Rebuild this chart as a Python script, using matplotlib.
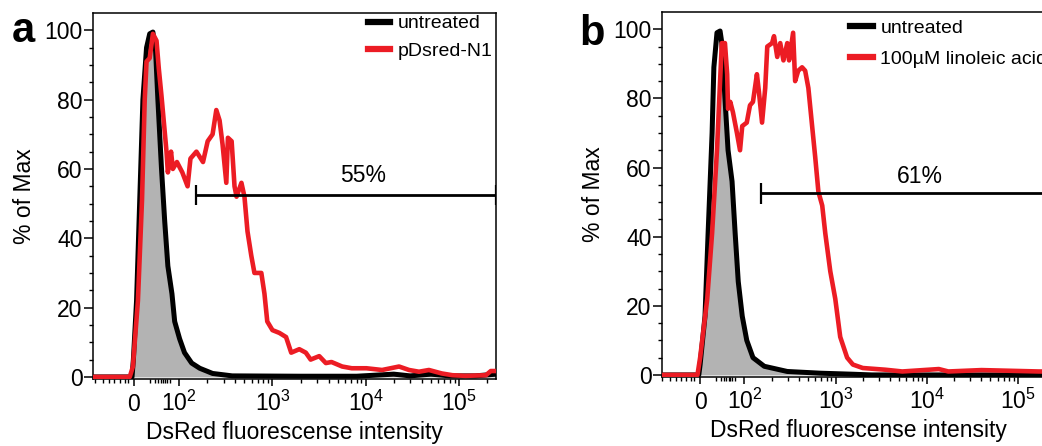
import numpy as np
import matplotlib
matplotlib.use("Agg")
import matplotlib.pyplot as plt
from matplotlib.lines import Line2D

plt.rcParams['font.family'] = ['Liberation Sans', 'DejaVu Sans']
plt.rcParams['mathtext.fontset'] = 'custom'
plt.rcParams['mathtext.rm'] = 'Liberation Sans'
plt.rcParams['mathtext.it'] = 'Liberation Sans:italic'

# panel a : untreated vs pDsred-N1
a_black_x = [-90, -4, -1, 6, 13, 20, 28, 35, 42, 48, 53, 61, 68, 75, 84, 90, 101, 114, 136, 166,
             228, 370, 1941, 8000, 20000, 30000, 50000, 80000, 150000, 250000]
a_black_y = [0, 0, 5, 22, 51, 80, 95, 99, 99.5, 94, 80, 60, 45, 32, 24, 16, 11, 7, 4, 2.5,
             1, 0.3, 0.2, 0.2, 0.8, 0.3, 0.8, 0.3, 0.3, 0.8]
a_red_x = [-90, -9, -2, 9, 18, 24, 28, 35, 42, 50, 55, 61, 72, 75, 82, 86, 95, 108, 123, 132,
           153, 180, 202, 228, 250, 271, 292, 320, 333, 365, 392, 412, 465, 501, 540, 593, 641, 760, 821, 880,
           1000, 1186, 1400, 1590, 1941, 2280, 2570, 3177, 3740, 4300, 5600, 7100, 10200, 15000, 22800, 29200,
           37300, 47700, 65500, 85000, 118000, 195000, 220000, 250000]
a_red_y = [0, 0, 3, 22, 51, 80, 91, 92, 99, 97, 89, 81, 65, 59, 65, 60, 62, 59, 55, 63,
           65, 62, 68, 70, 77, 74, 67, 56, 69, 68, 55, 52, 56, 52, 42, 35, 30, 30, 24, 16,
           13.5, 12.7, 11.5, 7, 8, 7, 5, 6, 4, 4.3, 3, 2.5, 2.5, 2, 3, 2,
           1.5, 2, 1, 0.5, 0.3, 0.5, 1.7, 1.7]

# panel b : untreated vs 100uM linoleic acid
b_black_x = [-87, -3, 0, 11, 18, 27, 31, 38, 45, 49, 56, 63, 72, 79, 86, 95, 106, 124, 165, 295,
             680, 1550, 2500, 250000]
b_black_y = [0, 0, 3, 17, 41, 70, 89, 99, 99.5, 96, 80, 65, 56, 41, 27, 17, 10, 5, 2.5, 1,
             0.5, 0.2, 0, 0]
b_red_x = [-87, -6, 0, 16, 27, 38, 45, 49, 56, 61, 63, 68, 74, 83, 90, 95, 106, 115, 124, 137,
           144, 156, 169, 178, 201, 211, 229, 247, 268, 295, 309, 342, 360, 389, 429, 464, 503, 553, 598, 648,
           714, 771, 875, 993, 1125, 1340, 1550, 1990, 3540, 5400, 13600, 17300, 40000, 170000, 250000]
b_red_y = [0, 0, 5, 22, 41, 65, 85, 96, 96, 87, 77, 79, 76, 70, 65, 72, 73, 78, 79, 87,
           82, 73, 83, 95, 96, 98, 92, 96, 91, 96, 91, 99, 85, 88, 89, 88, 83, 72, 63, 53,
           49, 41, 30, 22, 11, 5, 3, 2, 1.5, 1, 1.7, 1, 1.4, 1, 1]

labels_a = ['untreated', 'pDsred-N1']
labels_b = ['untreated', '100\u00b5M linoleic acid']
gate_lo, gate_hi, gate_y = 150, 250000, 52.5
pct_a, pct_b = '55%', '61%'

major_x = [0, 1e2, 1e3, 1e4, 1e5]
major_xlabels = ['0', r'$\mathregular{10^2}$', r'$\mathregular{10^3}$',
                 r'$\mathregular{10^4}$', r'$\mathregular{10^5}$']
minor_x = [-85, -68, -55, -44, -31, -20, -13, 35, 46, 53, 59, 64, 68, 72, 79]
minor_x += [m * 10 ** e for e in range(2, 6) for m in range(2, 10) if m * 10 ** e < 250000]

RED = '#ec1c24'
GRAY = '#b3b3b3'

fig = plt.figure(figsize=(10.42, 4.46), dpi=100)


def panel(rect, xmin, bx, by, rx, ry, labels, pct, pct_x, pct_y, leg_anchor, leg_space):
    ax = fig.add_axes(rect)
    ax.set_xscale('symlog', linthresh=100, linscale=0.438)
    bx, by, rx, ry = map(np.asarray, (bx, by, rx, ry))
    grid = np.union1d(bx, rx)
    low = np.minimum(np.interp(grid, bx, by), np.interp(grid, rx, ry))
    ax.fill_between(grid, 0, low, color=GRAY, lw=0, zorder=1)
    ax.plot(bx, by, color='black', lw=3.6, zorder=2, solid_joinstyle='round')
    ax.plot(rx, ry, color=RED, lw=3.3, zorder=3, solid_joinstyle='round')
    # gate bar
    ax.plot([gate_lo, gate_hi], [gate_y, gate_y], color='black', lw=2.0, zorder=4)
    ax.vlines([gate_lo, gate_hi], gate_y - 3, gate_y + 3, color='black', lw=1.6, zorder=4)
    ax.text(pct_x, pct_y, pct, fontsize=16.5, ha='center', va='center')

    ax.set_xlim(xmin, 250000)
    ax.set_ylim(-0.6, 105)
    ax.set_xticks(major_x)
    ax.set_xticklabels(major_xlabels)
    ax.set_xticks(minor_x, minor=True)
    ax.set_yticks([0, 20, 40, 60, 80, 100])
    ax.set_yticks(np.arange(0, 101, 5), minor=True)
    ax.tick_params(axis='y', which='major', length=6.5, width=1.1, labelsize=16.5, pad=1)
    ax.tick_params(axis='y', which='minor', length=3, width=1.0)
    ax.tick_params(axis='x', which='major', length=5, width=1.1, labelsize=16.5, pad=18)
    ax.tick_params(axis='x', which='minor', length=3, width=1.0)
    for t in ax.get_xticklabels():
        t.set_va('baseline')
    for s in ax.spines.values():
        s.set_linewidth(1.1)
    ax.set_xlabel('DsRed fluorescense intensity', fontsize=16.5, labelpad=4)
    ax.set_ylabel('% of Max', fontsize=16.5, labelpad=6)

    handles = [Line2D([], [], color='black', lw=4.5), Line2D([], [], color=RED, lw=4.5)]
    ax.legend(handles, labels, loc='upper left', bbox_to_anchor=leg_anchor, frameon=False,
              fontsize=14, handlelength=1.15, handletextpad=0.4, labelspacing=leg_space,
              borderpad=0, borderaxespad=0)
    return ax


panel([93 / 1042, 67 / 446, 403 / 1042, 366 / 446], -90, a_black_x, a_black_y, a_red_x, a_red_y,
      labels_a, pct_a, 9500, 58, (0.682, 0.995), 0.5)
panel([662 / 1042, 69 / 446, 392 / 1042, 365 / 446], -86, b_black_x, b_black_y, b_red_x, b_red_y,
      labels_b, pct_b, 8500, 57.3, (0.48, 0.98), 0.7)

fig.text(12 / 1042, 1 - 42 / 446, 'a', fontsize=30, fontweight='bold', va='baseline')
fig.text(579 / 1042, 1 - 45 / 446, 'b', fontsize=30, fontweight='bold', va='baseline')

fig.savefig('out.png', dpi=100)
